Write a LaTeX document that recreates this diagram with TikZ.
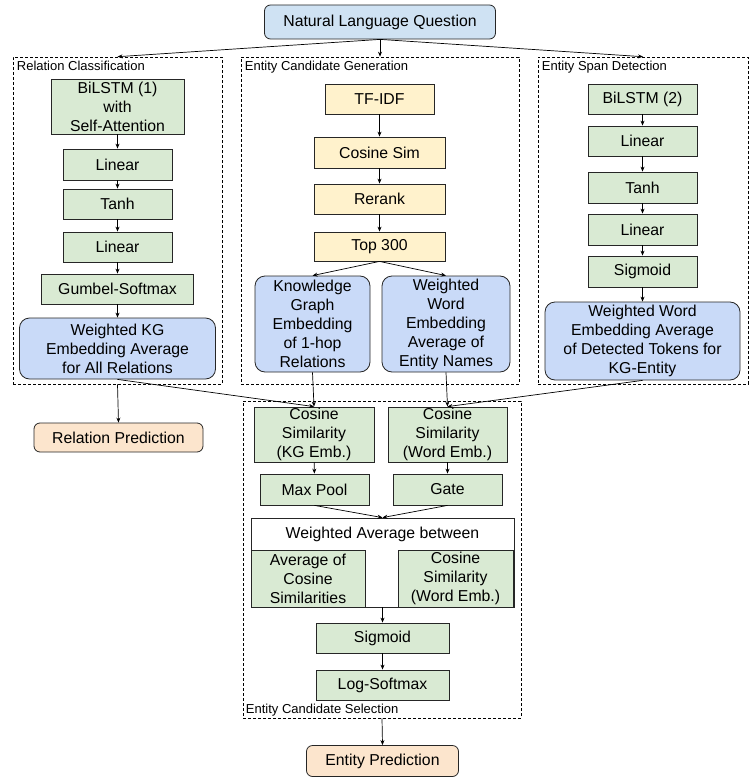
\documentclass[tikz,border=0pt]{standalone}
\usepackage{fontspec}
\setmainfont{Liberation Sans}
\usetikzlibrary{arrows.meta}
\definecolor{greenbox}{HTML}{D9EAD3}
\definecolor{yellowbox}{HTML}{FFF2CC}
\definecolor{bluebox}{HTML}{C9DAF8}
\definecolor{skybox}{HTML}{CFE2F3}
\definecolor{orangebox}{HTML}{FCE5CD}

\begin{document}
\begin{tikzpicture}[x=1pt,y=-1pt,
	block/.style={draw=black!85, line width=0.8pt, inner sep=0pt, align=center, font=\fontsize{15.8}{19}\selectfont},
	layerbox/.style={block, fill=greenbox},
	simbox/.style={block, fill=yellowbox},
	embbox/.style={block, fill=bluebox, rounded corners=10pt},
	predbox/.style={block, fill=orangebox, rounded corners=6pt},
	module/.style={draw, dash pattern=on 3pt off 2pt, line width=0.6pt, inner sep=0pt},
	moduletitle/.style={font=\fontsize{13}{15}\selectfont, inner sep=2pt},
	arr/.style={-{Stealth[length=5pt,width=4pt]}, line width=0.7pt}]
	
	\useasboundingbox (0,0) rectangle (751,784);
	
	\def\xrc{117.5};
	\def\xecg{379.5};
	\def\xesd{642.5};
	\def\xecs{382.5};
	
	\node[module, minimum width=209pt, minimum height=327pt] (rc) at (\xrc,220.5) {};
	\node[module, minimum width=278pt, minimum height=327pt] (ecg) at (380,220.5) {};
	\node[module, minimum width=210pt, minimum height=327pt] (esd) at (643,220.5) {};
	\node[module, minimum width=278pt, minimum height=317pt] (ecs) at (382,559.5) {};
	
	\node[moduletitle, anchor=north west] (rct) at ([xshift=2pt,yshift=-2pt]rc.north west) {Relation Classification};
	\node[moduletitle, anchor=north west] (ecgt) at ([xshift=2pt,yshift=-2pt]ecg.north west) {Entity Candidate Generation};
	\node[moduletitle, anchor=north west] (esdt) at ([xshift=2pt,yshift=-2pt]esd.north west) {Entity Span Detection};
	\node[moduletitle, anchor=south west] (ecst) at ([xshift=1pt,yshift=0pt]ecs.south west) {Entity Candidate Selection};
	
	\node[block, fill=skybox, rounded corners=6pt, minimum width=231pt, minimum height=34pt] (q) at (380,22) {Natural Language Question};
	
	\node[layerbox, minimum width=133pt, minimum height=55pt] (rc1) at (\xrc,106.5) {BiLSTM (1)\\with\\Self-Attention};
	\node[layerbox, minimum width=109pt, minimum height=31pt] (rc2) at (\xrc,164.5) {Linear};
	\node[layerbox, minimum width=109pt, minimum height=30pt] (rc3) at (\xrc,204) {Tanh};
	\node[layerbox, minimum width=109pt, minimum height=30pt] (rc4) at (\xrc,247) {Linear};
	\node[layerbox, minimum width=152pt, minimum height=30pt] (rc5) at (\xrc,289) {Gumbel-Softmax};
	\node[embbox, minimum width=196pt, minimum height=61pt] (rc6) at (\xrc,348.5) {Weighted KG\\Embedding Average\\for All Relations};
	
	\node[simbox, minimum width=109pt, minimum height=30pt] (ecg1) at (\xecg,99) {TF-IDF};
	\node[simbox, minimum width=131pt, minimum height=31pt] (ecg2) at (\xecg,152.5) {Cosine Sim};
	\node[simbox, minimum width=131pt, minimum height=30pt] (ecg3) at (\xecg,199) {Rerank};
	\node[simbox, minimum width=131pt, minimum height=29pt] (ecg4) at (\xecg,246.5) {Top 300};
	\node[embbox, minimum width=115pt, minimum height=96pt] (ecg5) at (312.5,324) {Knowledge\\Graph\\Embedding\\of 1-hop\\Relations};
	\node[embbox, minimum width=128pt, minimum height=96pt] (ecg6) at (446,324) {Weighted\\Word\\Embedding\\Average of\\Entity Names};
	
	\node[layerbox, minimum width=109pt, minimum height=30pt] (esd1) at (\xesd,99) {BiLSTM (2)};
	\node[layerbox, minimum width=109pt, minimum height=30pt] (esd2) at (\xesd,141) {Linear};
	\node[layerbox, minimum width=109pt, minimum height=31pt] (esd3) at (\xesd,187.5) {Tanh};
	\node[layerbox, minimum width=109pt, minimum height=31pt] (esd4) at (\xesd,229.5) {Linear};
	\node[layerbox, minimum width=109pt, minimum height=31pt] (esd5) at (\xesd,271.5) {Sigmoid};
	\node[embbox, minimum width=195pt, minimum height=78pt] (esd6) at (\xesd,341) {Weighted Word\\Embedding Average\\of Detected Tokens for\\KG-Entity};
	
	\node[predbox, minimum width=169pt, minimum height=29pt] (rp) at (118.5,437.5) {Relation Prediction};
	
	\node[layerbox, minimum width=120pt, minimum height=55pt] (ecs1) at (314,434.5) {Cosine\\Similarity\\(KG Emb.)};
	\node[layerbox, minimum width=119pt, minimum height=55pt] (ecs2) at (447.5,434.5) {Cosine\\Similarity\\(Word Emb.)};
	\node[layerbox, minimum width=109pt, minimum height=31pt] (ecs3) at (314.5,489.5) {Max Pool};
	\node[layerbox, minimum width=109pt, minimum height=31pt] (ecs4) at (447.5,489.5) {Gate};
	\node[block, fill=white, minimum width=263pt, minimum height=89pt,
		label={[block, draw=none, anchor=north, yshift=-9pt]north:Weighted Average between}] (wavg) at (\xecs,562.5) {};
	\node[layerbox, minimum width=114pt, minimum height=57pt] (ecs5) at (308,578.5) {Average of\\Cosine\\Similarities};
	\node[layerbox, minimum width=115pt, minimum height=57pt] (ecs6) at (455.5,578.5) {Cosine\\Similarity\\(Word Emb.)};
	\node[layerbox, minimum width=133pt, minimum height=30pt] (ecs7) at (\xecs,638) {Sigmoid};
	\node[layerbox, minimum width=133pt, minimum height=30pt] (ecs8) at (\xecs,685) {Log-Softmax};
	
	\node[predbox, minimum width=152pt, minimum height=31pt] (ep) at (\xecs,761) {Entity Prediction};
	
	\draw[arr] (q.south) -- (rc.north);
	\draw[arr] (q.south) -- (ecg.north);
	\draw[arr] (q.south) -- (esd.north);
	
	\draw[arr] (rc1) -- (rc2);
	\draw[arr] (rc2) -- (rc3);
	\draw[arr] (rc3) -- (rc4);
	\draw[arr] (rc4) -- (rc5);
	\draw[arr] (rc5) -- (rc6);
	
	\draw[arr] (ecg1) -- (ecg2);
	\draw[arr] (ecg2) -- (ecg3);
	\draw[arr] (ecg3) -- (ecg4);
	\draw[arr] (ecg4.south) -- (ecg5.north);
	\draw[arr] (ecg4.south) -- (ecg6.north);
	
	\draw[arr] (esd1) -- (esd2);
	\draw[arr] (esd2) -- (esd3);
	\draw[arr] (esd3) -- (esd4);
	\draw[arr] (esd4) -- (esd5);
	\draw[arr] (esd5) -- (esd6);
	
	\draw[arr] (rc.south) -- (rp.north);
	\draw[arr] (rc6.south) -- (ecs1.north);
	\draw[arr] (ecg5.south) -- (ecs1.north);
	\draw[arr] (ecg6.south) -- (ecs2.north);
	\draw[arr] (esd6.south) -- (ecs2.north);
	
	\draw[arr] (ecs1) -- (ecs3);
	\draw[arr] (ecs2) -- (ecs4);
	\draw[arr] (ecs3.south) -- (wavg.north);
	\draw[arr] (ecs4.south) -- (wavg.north);
	\draw[arr] (wavg.south) -- (ecs7.north);
	\draw[arr] (ecs7) -- (ecs8);
	\draw[arr] (ecs.south) -- (ep.north);
	
\end{tikzpicture}
\end{document}
